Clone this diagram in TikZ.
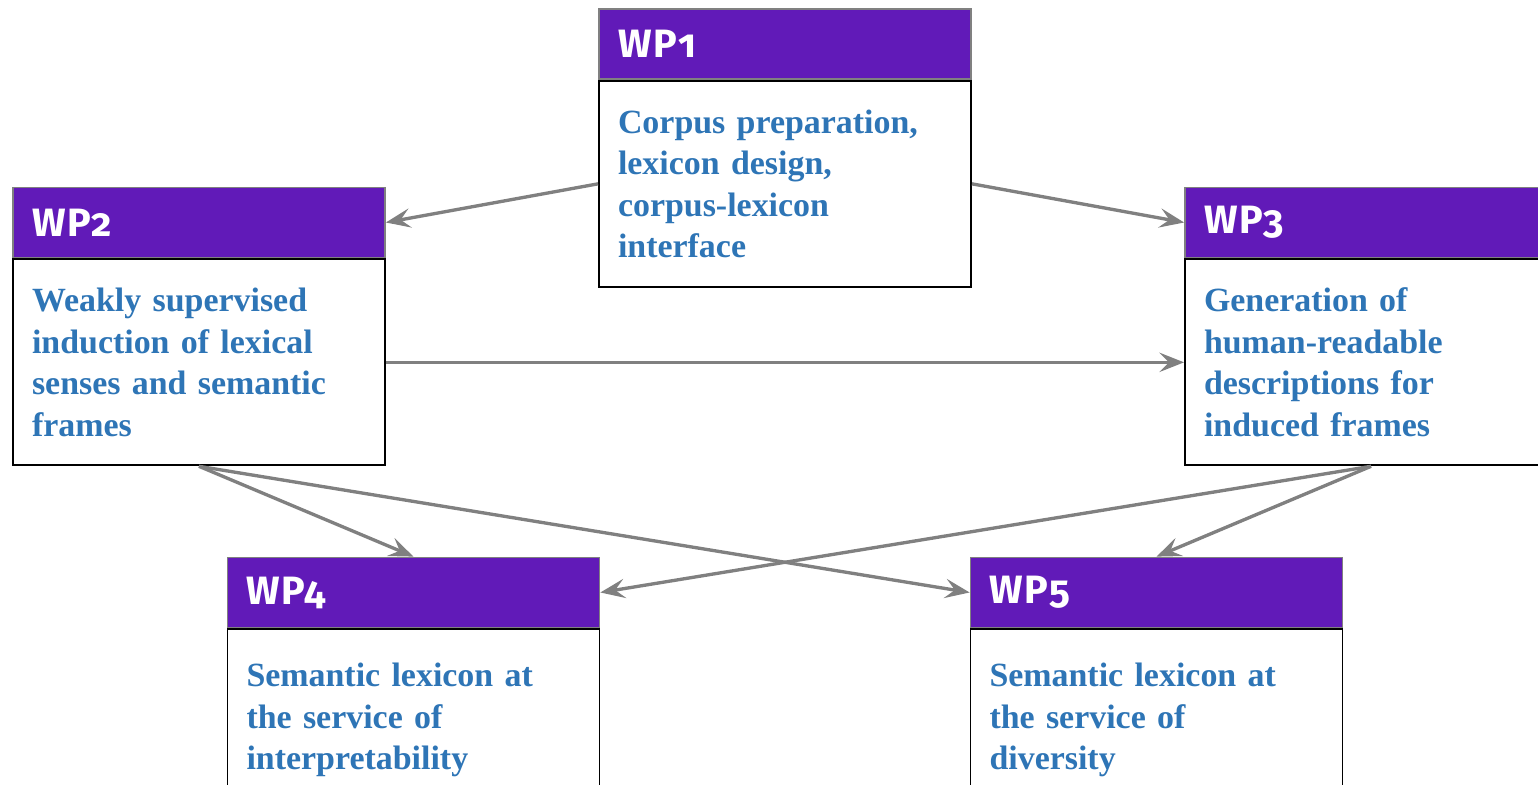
\documentclass[tikz,border=0pt]{standalone}
\usepackage{fontspec}
\setmainfont{Liberation Serif}
\newfontfamily\wpfont[Numbers=OldStyle,LetterSpace=4]{Fira Sans}
\usetikzlibrary{arrows.meta}
\definecolor{wppurple}{HTML}{611AB8}
\definecolor{wpblue}{HTML}{2E75B6}
\definecolor{wpgray}{HTML}{808080}

\tikzset{
  wphead/.style={draw=wpgray, line width=1pt, fill=wppurple, text=white,
    minimum width=7.44cm, minimum height=1.4cm, text width=6.68cm,
    inner xsep=0.38cm, align=left,
    font=\wpfont\bfseries\fontsize{22.5}{24}\selectfont},
  wpbody/.style={draw=black, line width=1.1pt, fill=white, text=wpblue,
    minimum width=7.44cm, minimum height=4.12cm, text width=6.68cm,
    inner xsep=0.38cm, align=left, anchor=north,
    font=\bfseries\fontsize{19.3}{23.6}\selectfont},
  wparrow/.style={draw=wpgray, line width=1.9pt,
    -{Stealth[length=14pt,width=11pt,inset=5.5pt]}}
}

\begin{document}
\begin{tikzpicture}
\useasboundingbox (0,0) rectangle (30.76,15.70);
\clip (0,0) rectangle (30.76,15.70);

\node[wphead] (wp1h) at (15.70,14.82) {WP1};
\node[wpbody] (wp1) at (wp1h.south) {Corpus preparation,\\lexicon design,\\corpus-lexicon\\interface};

\node[wphead] (wp2h) at (3.98,11.25) {WP2};
\node[wpbody] (wp2) at (wp2h.south) {Weakly supervised\\induction of lexical\\senses and semantic\\frames};

\node[wphead] (wp3h) at (27.42,11.25) {WP3};
\node[wpbody] (wp3) at (wp3h.south) {Generation of\\human-readable\\descriptions for\\induced frames};

\node[wphead] (wp4h) at (8.27,3.85) {WP4};
\node[wpbody, minimum height=3.64cm] (wp4) at (wp4h.south) {Semantic lexicon at\\the service of\\interpretability};

\node[wphead] (wp5h) at (23.13,3.85) {WP5};
\node[wpbody, minimum height=3.64cm] (wp5) at (wp5h.south) {Semantic lexicon at\\the service of\\diversity};

\draw[wparrow] (wp1.west) -- (wp2h.east);
\draw[wparrow] (wp1.east) -- (wp3h.west);
\draw[wparrow] (wp2.east) -- (wp3.west);
\draw[wparrow] (wp2.south) -- (wp4h.north);
\draw[wparrow] (wp2.south) -- (wp5h.west);
\draw[wparrow] (wp3.south) -- (wp4h.east);
\draw[wparrow] (wp3.south) -- (wp5h.north);
\end{tikzpicture}
\end{document}
